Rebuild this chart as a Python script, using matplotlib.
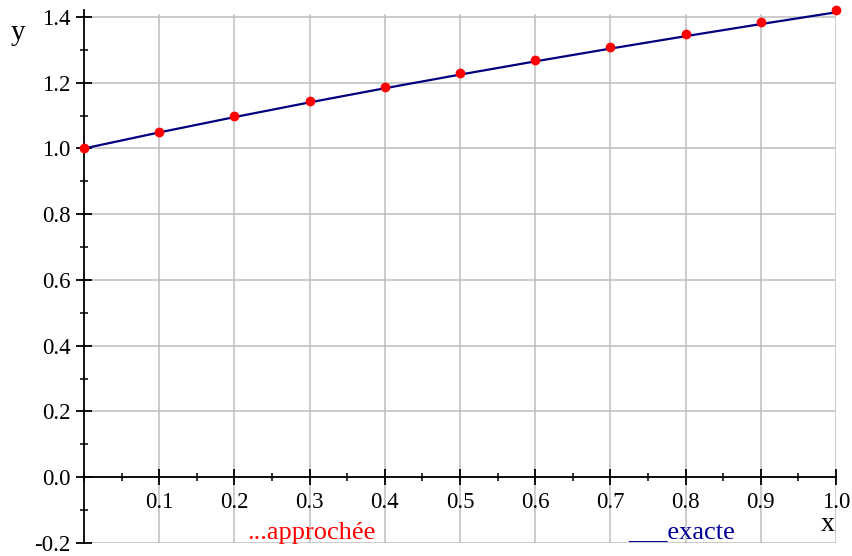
import matplotlib.pyplot as plt
from matplotlib.ticker import MultipleLocator, FixedLocator

plt.rcParams["font.family"] = ["Liberation Serif", "DejaVu Serif"]

# approximate solution (points) and exact solution (line)
x_vals = [0.0, 0.1, 0.2, 0.3, 0.4, 0.5, 0.6, 0.7, 0.8, 0.9, 1.0]
y_approx = [1.0, 1.05, 1.0976, 1.1432, 1.1869, 1.2290, 1.2697, 1.3091, 1.3473, 1.3844, 1.4205]
y_exact = [1.0, 1.0488, 1.0954, 1.1402, 1.1832, 1.2247, 1.2649, 1.3038, 1.3416, 1.3784, 1.4142]

x_ticks = [0.1, 0.2, 0.3, 0.4, 0.5, 0.6, 0.7, 0.8, 0.9, 1.0]
x_ticklabels = ["0.1", "0.2", "0.3", "0.4", "0.5", "0.6", "0.7", "0.8", "0.9", "1.0"]
y_ticks = [-0.2, 0.0, 0.2, 0.4, 0.6, 0.8, 1.0, 1.2, 1.4]
y_ticklabels = ["-0.2", "0.0", "0.2", "0.4", "0.6", "0.8", "1.0", "1.2", "1.4"]

fig = plt.figure(figsize=(8.52, 5.56), dpi=100)
ax = fig.add_axes([84 / 852, 13 / 556, 752 / 852, 532.6 / 556])

ax.set_xlim(0, 1.0)
ax.set_ylim(-0.2, 1.42)

# grid
for xv in x_ticks:
    ax.axvline(xv, ymax=0.992, color="#bdbdbd", lw=1.1, zorder=0)
for yv in y_ticks:
    ax.axhline(yv, color="#bdbdbd", lw=1.1, zorder=0)

ax.plot(x_vals, y_exact, color="#000080", lw=1.6, zorder=2)
ax.plot(x_vals, y_approx, "o", color="red", ms=6, zorder=3, clip_on=False)

# axes through origin
for s in ["top", "right"]:
    ax.spines[s].set_visible(False)
ax.spines["left"].set_position(("data", 0))
ax.spines["bottom"].set_position(("data", 0))
ax.spines["left"].set_linewidth(1.3)
ax.spines["bottom"].set_linewidth(1.3)

ax.xaxis.set_major_locator(FixedLocator(x_ticks))
ax.set_xticklabels(x_ticklabels)
ax.xaxis.set_minor_locator(MultipleLocator(0.05))
ax.yaxis.set_major_locator(FixedLocator(y_ticks))
ax.set_yticklabels(y_ticklabels)
ax.yaxis.set_minor_locator(MultipleLocator(0.1))

ax.tick_params(which="major", direction="inout", length=11, width=1.3, labelsize=16.5, pad=4)
ax.tick_params(which="minor", direction="inout", length=5.5, width=1.1)
ax.tick_params(axis="x", which="major", pad=5)

ax.text(-0.088, 1.35, "y", fontsize=21, ha="center", va="center")
ax.text(0.989, -0.145, "x", fontsize=20, ha="center", va="center")

ax.text(0.302, -0.17, "...approchée", color="red", fontsize=19, ha="center", va="center")
ax.text(0.795, -0.17, "___exacte", color="#000099", fontsize=19, ha="center", va="center")

fig.savefig("out.png", dpi=100)
